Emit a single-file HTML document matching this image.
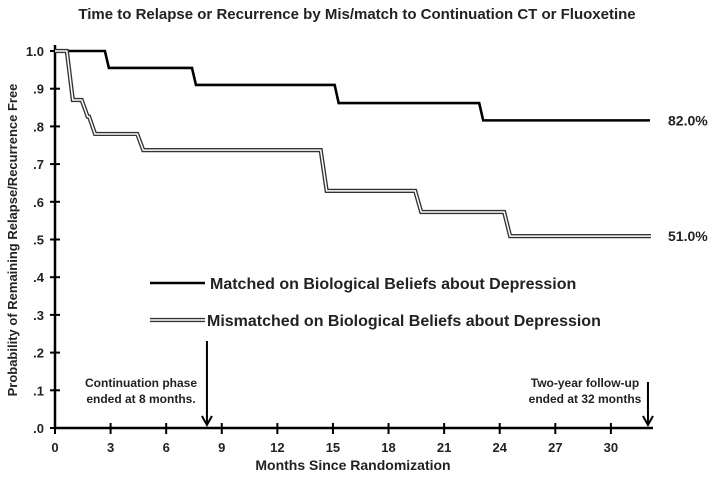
<!DOCTYPE html>
<html><head><meta charset="utf-8"><style>
body{margin:0;background:#fff}
svg text{font-family:"Liberation Sans",sans-serif;font-weight:bold;fill:#222}
</style></head><body>
<svg id="c" width="715" height="474" xmlns="http://www.w3.org/2000/svg"></svg>
<script>
const xTicks=[0,3,6,9,12,15,18,21,24,27,30];
const yTicks=[0,.1,.2,.3,.4,.5,.6,.7,.8,.9,1];
const yLabels=[".0",".1",".2",".3",".4",".5",".6",".7",".8",".9","1.0"];
const matchedT=[0,2.8,7.5,15.2,23,32];
const matchedS=[1,.955,.91,.862,.816,.816];
const mismatchT=[0,0.8,1.6,2.0,2.4,4.6,14.5,19.6,24.4,32];
const mismatchS=[1,.87,.826,.78,.78,.737,.629,.573,.509,.509];
const svg=document.getElementById('c');
const NS='http://www.w3.org/2000/svg';
const X=m=>55+m*18.53, Y=v=>428-v*377;
function mk(t,a,p){const e=document.createElementNS(NS,t);for(const k in a)e.setAttribute(k,a[k]);(p||svg).appendChild(e);return e;}
function txt(s,x,y,size,anchor,name){const e=mk('text',{x:x,y:y,'font-size':size,'text-anchor':anchor||'start'});e.textContent=s;


return e;}
txt('Time to Relapse or Recurrence by Mis/match to Continuation CT or Fluoxetine',357,19,15,'middle','chart-title');
const ax=mk('path',{d:`M55 ${Y(1)-6} V428 H653`,stroke:'#000','stroke-width':2.5,fill:'none'});


xTicks.forEach(t=>{mk('line',{x1:X(t),x2:X(t),y1:423,y2:434,stroke:'#000','stroke-width':2});
txt(String(t),X(t),452,13,'middle','x-tick-label');});
yTicks.forEach((v,i)=>{mk('line',{x1:50,x2:60,y1:Y(v),y2:Y(v),stroke:'#000','stroke-width':2});
txt(yLabels[i],44,Y(v)+5,13,'end','y-tick-label');});
txt('Months Since Randomization',353,470,14,'middle','x-axis-title');
const yt=txt('Probability of Remaining Relapse/Recurrence Free',0,0,13,'middle','y-axis-title');
yt.setAttribute('transform','translate(17,240) rotate(-90)');
function stepPath(T,S,slope){let d=`M${X(T[0])} ${Y(S[0])}`;
for(let i=1;i<T.length;i++){d+=` H${X(T[i])-slope}`;d+=` L${X(T[i])+slope} ${Y(S[i])}`;}return d;}
const m=mk('path',{d:stepPath(matchedT,matchedS,2),stroke:'#000','stroke-width':2.6,fill:'none'});


const d=stepPath(mismatchT,mismatchS,3);
const mm=mk('path',{d:d,stroke:'#333','stroke-width':4.2,fill:'none'});


mk('path',{d:d,stroke:'#fff','stroke-width':1.5,fill:'none'});
txt('82.0%',668,Y(.816)+5,14,'start','matched-end-label');
txt('51.0%',668,Y(.509)+5,14,'start','mismatched-end-label');
mk('line',{x1:150,x2:205,y1:283,y2:283,stroke:'#000','stroke-width':2.6});
txt('Matched on Biological Beliefs about Depression',210,289,16,'start','legend-matched');
mk('line',{x1:150,x2:205,y1:320,y2:320,stroke:'#333','stroke-width':4.2});
mk('line',{x1:150,x2:205,y1:320,y2:320,stroke:'#fff','stroke-width':1.5});
txt('Mismatched on Biological Beliefs about Depression',207,326,16,'start','legend-mismatched');
txt('Continuation phase',141,387,12,'middle','annotation-continuation');
txt('ended at 8 months.',141,403,12,'middle','annotation-continuation-2');
mk('path',{d:`M${X(8.2)} 341 V425 M${X(8.2)-5} 416 L${X(8.2)} 425 L${X(8.2)+5} 416`,stroke:'#000','stroke-width':2,fill:'none'});
txt('Two-year follow-up',585,387,12,'middle','annotation-followup');
txt('ended at 32 months',585,403,12,'middle','annotation-followup-2');
mk('path',{d:`M${X(32)} 382 V425 M${X(32)-5} 416 L${X(32)} 425 L${X(32)+5} 416`,stroke:'#000','stroke-width':2,fill:'none'});
</script>
</body></html>
